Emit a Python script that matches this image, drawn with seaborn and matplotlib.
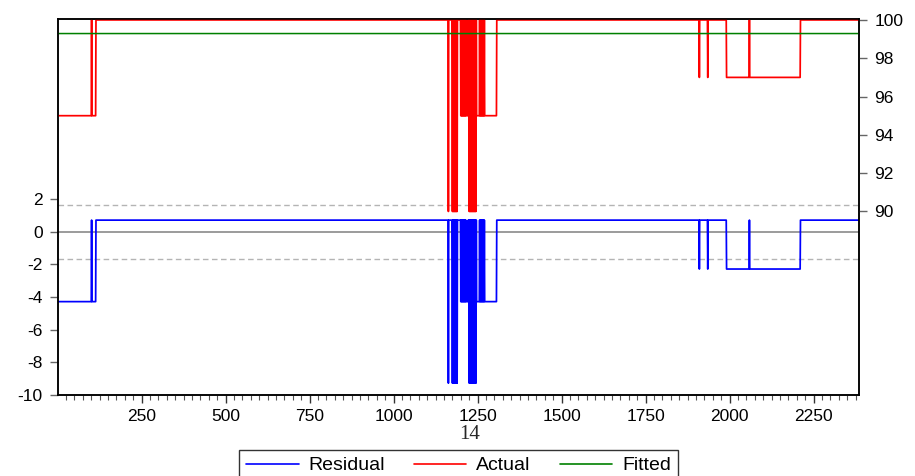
import numpy as np
import pandas as pd
import matplotlib
matplotlib.use("Agg")
import matplotlib.pyplot as plt
import seaborn as sns
from matplotlib.lines import Line2D

# number of observations and fitted level (constant)
n_obs = 2385
fitted_value = 99.29
se_band = 1.66

# actual series: level that holds from each run start until the next one
run_start = [1, 114, 1199, 1307, 1991, 2211]
run_level = [95, 100, 95, 100, 97, 100]

spikes_100 = [101,
              1199, 1201, 1203, 1205, 1207, 1209, 1211, 1213, 1215,
              1222, 1224, 1226, 1228, 1230, 1232, 1234, 1236, 1238, 1240,
              1242, 1244, 1246,
              1256, 1258, 1260, 1262, 1264, 1266, 1268, 1270,
              2059]
spikes_90 = [1163,
             1175, 1177, 1179, 1181, 1183, 1185, 1187, 1189,
             1225, 1227, 1229, 1231, 1233, 1235, 1237, 1239, 1241, 1243,
             1245]
spikes_97 = [1910, 1935]

xticks = [250, 500, 750, 1000, 1250, 1500, 1750, 2000, 2250]
left_ticks = [2, 0, -2, -4, -6, -8, -10]
right_ticks = [90, 92, 94, 96, 98, 100]

obs = np.arange(1, n_obs + 1)
actual = np.zeros(n_obs)
for start, level in zip(run_start, run_level):
    actual[obs >= start] = level
for o in spikes_100:
    actual[o - 1] = 100
for o in spikes_90:
    actual[o - 1] = 90
for o in spikes_97:
    actual[o - 1] = 97

df = pd.DataFrame({"obs": obs, "actual": actual})
df["fitted"] = fitted_value
df["residual"] = df["actual"] - df["fitted"]

sns.set_style("ticks")
plt.rcParams["font.family"] = ["Liberation Sans", "DejaVu Sans"]
plt.rcParams["axes.unicode_minus"] = False

fig = plt.figure(figsize=(9.15, 4.76), dpi=100)
ax = fig.add_axes([0.0634, 0.1708, 0.8757, 0.7893])
ax2 = ax.twinx()

# residual panel (left axis)
ax.axhline(0, color="#808080", lw=1.1, zorder=1)
ax.axhline(se_band, color="#b4b4b4", lw=1.0, ls=(0, (4, 2.5)), zorder=1)
ax.axhline(-se_band, color="#b4b4b4", lw=1.0, ls=(0, (4, 2.5)), zorder=1)
sns.lineplot(data=df, x="obs", y="residual", ax=ax, color="#0000ff", lw=1.25,
             estimator=None, sort=False, legend=False)

# actual / fitted (right axis)
sns.lineplot(data=df, x="obs", y="actual", ax=ax2, color="#ff0000", lw=1.25,
             estimator=None, sort=False, legend=False)
sns.lineplot(data=df, x="obs", y="fitted", ax=ax2, color="#008000", lw=1.1,
             estimator=None, sort=False, legend=False)

ax.set_xlim(1, 2386)
ax.set_ylim(-10, 13.05)
ax2.set_ylim(80.43, 100.05)

ax.set_xticks(xticks)
ax.set_xticks(np.arange(25, 2386, 25), minor=True)
ax.set_yticks(left_ticks)
ax2.set_yticks(right_ticks)
ax.set_xlabel("")
ax.set_ylabel("")
ax2.set_ylabel("")

ax.tick_params(axis="x", which="major", length=6, width=1, pad=4, labelsize=12.5,
               color="#333333", labelcolor="black")
ax.tick_params(axis="x", which="minor", length=3.5, width=0.8, color="#555555")
ax.tick_params(axis="y", length=6, width=1, pad=5, labelsize=12.5,
               color="#666666", labelcolor="black")
ax2.tick_params(axis="y", length=6, width=1, pad=5, labelsize=12.5,
                color="#666666", labelcolor="black")

for a in (ax, ax2):
    for s in a.spines.values():
        s.set_color("black")
        s.set_linewidth(1.1)

fig.text(0.513, 0.088, "14", family="Liberation Serif", fontsize=15,
         ha="center", va="center")

handles = [Line2D([], [], color="#0000ff", lw=1.2),
           Line2D([], [], color="#ff0000", lw=1.2),
           Line2D([], [], color="#008000", lw=1.2)]
leg = fig.legend(handles, ["Residual", "Actual", "Fitted"], loc="upper center",
                 bbox_to_anchor=(0.501, 0.0546), ncol=3, fontsize=14,
                 frameon=True, fancybox=False, edgecolor="black",
                 handlelength=2.7, handletextpad=0.5, columnspacing=1.5,
                 borderpad=0.35, borderaxespad=0)
leg.get_frame().set_linewidth(1.0)
for t in leg.get_texts():
    t.set_color("black")

fig.savefig("out.png", dpi=100)
